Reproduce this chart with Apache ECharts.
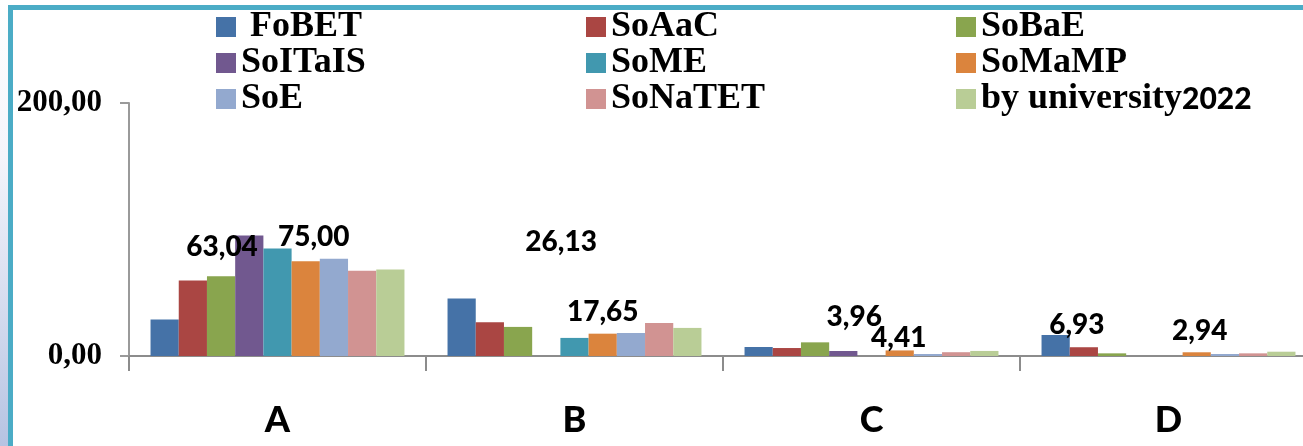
<!DOCTYPE html>
<html>
<head>
<meta charset="utf-8">
<script src="https://cdn.jsdelivr.net/npm/echarts@6/dist/echarts.min.js"></script>
<style>
html,body{margin:0;padding:0;background:#fff;overflow:hidden;width:1303px;height:446px;}
#c{width:1317px;height:446px;}
</style>
</head>
<body>
<div id="c"></div>
<script>
// ---- data ----
var categories = ['A', 'B', 'C', 'D'];
var seriesNames = [' FoBET', 'SoAaC', 'SoBaE', 'SoITaIS', 'SoME', 'SoMaMP', 'SoE', 'SoNaTET', 'by university2022'];
var FoBET   = [28.8, 45.4, 7.1, 16.6];
var SoAaC   = [59.6, 26.6, 6.3, 6.93];
var SoBaE   = [63.04, 23.0, 10.8, 2.1];
var SoITaIS = [95.3, 0, 3.96, 0];
var SoME    = [85.0, 14.3, 0, 0];
var SoMaMP  = [75.00, 17.65, 4.41, 2.94];
var SoE     = [76.8, 18.2, 1.6, 1.6];
var SoNaTET = [67.3, 26.13, 3.0, 2.1];
var byUniversity2022 = [68.4, 22.2, 4.0, 3.4];
var yTicks = [0, 200];

var values = [FoBET, SoAaC, SoBaE, SoITaIS, SoME, SoMaMP, SoE, SoNaTET, byUniversity2022];
var colors = ['#4572a7', '#aa4643', '#89a54e', '#71588f', '#4198af', '#db843d', '#93a9cf', '#d19392', '#b9cd96'];

// which points carry a visible value label (series index, category index) and how it is nudged
var labelSpots = [
  {s: 2, c: 0, dist: 15, dx: 1},
  {s: 5, c: 0, dist: 10, dx: 8},
  {s: 7, c: 1, dist: 67, dx: -98},
  {s: 5, c: 1, dist: 8, dx: 0},
  {s: 3, c: 2, dist: 20, dx: 11},
  {s: 5, c: 2, dist: -2, dx: -1},
  {s: 1, c: 3, dist: 8, dx: -7},
  {s: 5, c: 3, dist: 7, dx: 3}
];

function fmt(v) { return Number(v).toFixed(2).replace('.', ','); }

var series = seriesNames.map(function (name, si) {
  return {
    name: name,
    type: 'bar',
    barGap: '0%',
    barCategoryGap: '14.5%',
    itemStyle: {color: colors[si]},
    data: values[si].map(function (v, ci) {
      var spot = labelSpots.filter(function (p) { return p.s === si && p.c === ci; })[0];
      if (!spot) return v;
      return {
        value: v,
        label: {
          show: true, position: 'top', distance: spot.dist, offset: [spot.dx, 0],
          formatter: function (p) { return fmt(p.value); },
          fontFamily: 'Lato', fontWeight: 900, fontSize: 28, lineHeight: 28, color: '#000'
        }
      };
    })
  };
});

var legendText = {
  fontFamily: '"Liberation Serif"', fontWeight: 'bold', fontSize: 36, lineHeight: 36, color: '#000',
  rich: {
    a: {fontFamily: '"Liberation Serif"', fontWeight: 'bold', fontSize: 36, color: '#000'},
    b: {fontFamily: 'Lato', fontWeight: 900, fontSize: 30, color: '#000'}
  }
};
function legendCol(left, names) {
  return {
    orient: 'vertical', left: left, top: 9, padding: 0, itemGap: 0, itemWidth: 20, itemHeight: 20, itemTextGap: 9,
    icon: 'rect', data: names, textStyle: legendText,
    formatter: function (n) {
      if (n === 'by university2022') return '{a|by university}{b|2022}';
      return n;
    }
  };
}

var chart = echarts.init(document.getElementById('c'), null, {renderer: 'canvas'});
chart.setOption({
  animation: false,
  backgroundColor: '#fff',
  color: colors,
  legend: [
    legendCol(216, [seriesNames[0], seriesNames[3], seriesNames[6]]),
    legendCol(586, [seriesNames[1], seriesNames[4], seriesNames[7]]),
    legendCol(956, [seriesNames[2], seriesNames[5], seriesNames[8]])
  ],
  grid: {left: 129, right: 0, top: 103, bottom: 90, containLabel: false},
  xAxis: {
    type: 'category', data: categories,
    axisLine: {lineStyle: {color: '#8c8c8c', width: 2}},
    axisTick: {show: true, length: 15, lineStyle: {color: '#8c8c8c', width: 2}},
    axisLabel: {fontFamily: 'Lato', fontWeight: 900, fontSize: 36, color: '#000', margin: 46}
  },
  yAxis: {
    type: 'value', min: yTicks[0], max: yTicks[1], interval: yTicks[1] - yTicks[0],
    axisLine: {show: true, lineStyle: {color: '#9a9a9a', width: 2}},
    axisTick: {show: true, length: 9, lineStyle: {color: '#9a9a9a', width: 2}},
    splitLine: {show: false},
    axisLabel: {fontFamily: '"Liberation Serif"', fontWeight: 'bold', fontSize: 31, color: '#000', margin: 27,
      formatter: function (v) { return fmt(v); }}
  },
  graphic: [
    {type: 'rect', shape: {x: 0, y: 0, width: 8, height: 446}, silent: true,
      style: {fill: new echarts.graphic.LinearGradient(0, 0, 0, 1, [
        {offset: 0, color: '#ffffff'}, {offset: 0.35, color: '#f4f5fb'},
        {offset: 0.7, color: '#d4dbee'}, {offset: 1, color: '#b6c3e2'}])}},
    {type: 'line', shape: {x1: 8, y1: 7.5, x2: 1317, y2: 7.5}, silent: true,
      style: {stroke: '#4bacc6', lineWidth: 5}},
    {type: 'line', shape: {x1: 10.5, y1: 5, x2: 10.5, y2: 446}, silent: true,
      style: {stroke: '#4bacc6', lineWidth: 5}}
  ],
  series: series
});
</script>
</body>
</html>
